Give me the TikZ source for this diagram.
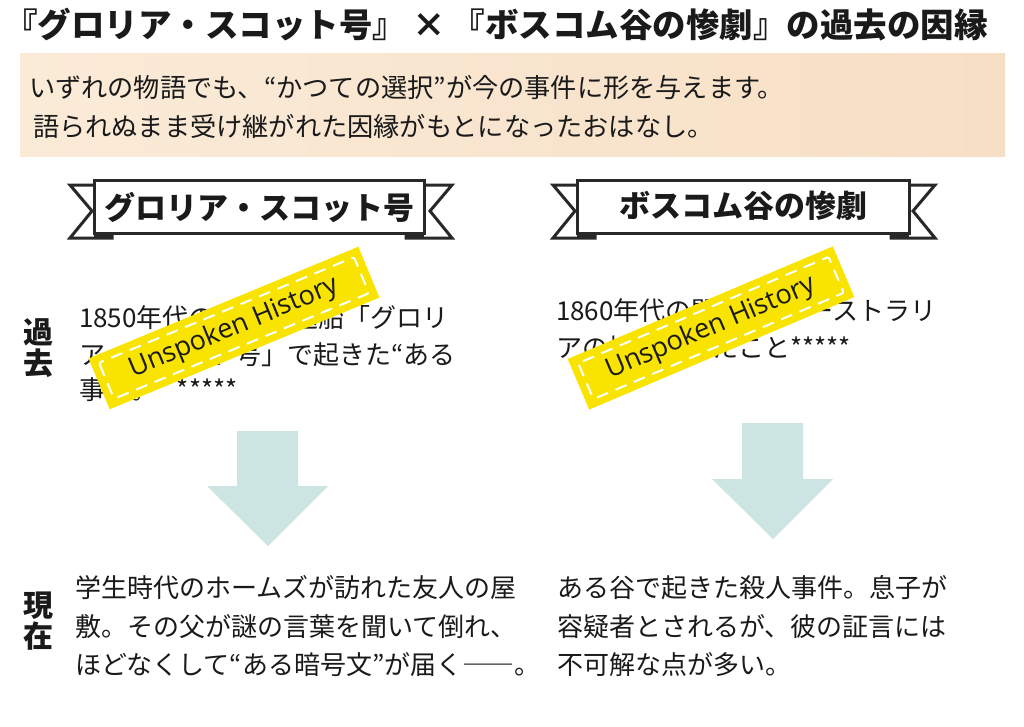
\documentclass[tikz,border=0pt]{standalone}
\usepackage{fontspec}
\newfontfamily\jp{Noto Sans CJK JP}
\newfontfamily\tapefont{Open Sans}
\newcommand\fullw[1]{{\addfontfeature{RawFeature=+fwid}#1}}
\usetikzlibrary{calc}
\definecolor{ink}{RGB}{26,26,26}
\definecolor{bannerline}{RGB}{40,40,40}
\definecolor{tapeyellow}{RGB}{248,228,0}
\definecolor{arrowteal}{RGB}{205,229,226}
\definecolor{boxleft}{RGB}{250,235,216}
\definecolor{boxright}{RGB}{247,223,197}
\tikzset{
  base/.style={inner sep=0pt, outer sep=0pt, text=ink},
  titletext/.style={base, anchor=base, font=\jp\bfseries\fontsize{33.5}{38}\selectfont},
  desctext/.style={base, anchor=base west, font=\jp\fontsize{26.2}{30}\selectfont},
  bannertext/.style={base, anchor=base, font=\jp\bfseries\fontsize{31}{36}\selectfont},
  sidelabel/.style={base, anchor=base, font=\jp\bfseries\fontsize{30}{34}\selectfont},
  bodytext/.style={base, anchor=base west, font=\jp\fontsize{26}{30}\selectfont},
  bannerpart/.style={draw=bannerline, line width=3pt, fill=white, line join=miter},
  foldpart/.style={fill=bannerline},
  tapebody/.style={fill=tapeyellow},
  tapedash/.style={draw=white, line width=2pt, dash pattern=on 12pt off 8pt, rounded corners=2pt},
  tapetext/.style={base, text=ink, transform shape, font=\tapefont\fontsize{27}{30}\selectfont},
  bigarrow/.style={fill=arrowteal},
}
\begin{document}
\begin{tikzpicture}[x=1pt,y=-1pt]
\path[use as bounding box, fill=white] (0,0) rectangle (1024,726);

% title
\node[titletext] (title) at (496,37) {『グロリア・スコット号』\hspace{6pt}×\hspace{6pt}『ボスコム谷の惨劇』の過去の因縁};

% description box
\shade[left color=boxleft, right color=boxright] (20,53) rectangle (1005,156);
\node[desctext] (d1) at (29,97) {いずれの物語でも、“かつての選択”が今の事件に形を与えます。};
\node[desctext] (d2) at (33,136) {語られぬまま受け継がれた因縁がもとになったおはなし。};

% left banner
\draw[bannerpart] (94,185) -- (70,185) -- (92,211) -- (70,238) -- (112,238) -- (112,233);
\draw[bannerpart] (424,185) -- (452,185) -- (430,211) -- (452,238) -- (406,238) -- (406,233);
\fill[foldpart] (94,232) rectangle (112,238);
\fill[foldpart] (406,232) rectangle (424,238);
\draw[bannerpart] (94,180) rectangle (424,233);
\node[bannertext] (b1) at (259,219) {グロリア・スコット号};

% right banner
\draw[bannerpart] (577,185) -- (553,185) -- (575,211) -- (553,238) -- (595,238) -- (595,233);
\draw[bannerpart] (909,185) -- (935,185) -- (913,211) -- (935,238) -- (891,238) -- (891,233);
\fill[foldpart] (577,232) rectangle (595,238);
\fill[foldpart] (891,232) rectangle (909,238);
\draw[bannerpart] (577,180) rectangle (909,233);
\node[bannertext] (b2) at (743,217) {ボスコム谷の惨劇};

% side labels
\node[sidelabel] (ka1) at (38,343) {過};
\node[sidelabel] (ka2) at (38,374) {去};
\node[sidelabel] (ge1) at (38,616) {現};
\node[sidelabel] (ge2) at (38,647) {在};

% past texts
\node[bodytext] (pl1) at (79,327) {1850年代の囚人護送船「グロリ};
\node[bodytext] (pl2) at (79,364) {ア・スコット号」で起きた“ある};
\node[bodytext] (pl3) at (79,399) {事件。\hspace{20pt}*****};
\node[bodytext] (pr1) at (556,320) {1860年代の開拓期\hspace{12pt}オーストラリ};
\node[bodytext] (pr2) at (556,357) {アの地で起きたこと*****};

% tapes
\begin{scope}[shift={(234,328)}, rotate=22.5]
  \fill[tapebody] (-146,-27.5) rectangle (146,27.5);
  \draw[tapedash] (-138,-19.5) rectangle (138,19.5);
  \node[tapetext] (tapeL) at (0,0) {Unspoken History};
\end{scope}
\begin{scope}[shift={(711,328)}, rotate=23]
  \fill[tapebody] (-144,-27.5) rectangle (144,27.5);
  \draw[tapedash] (-136,-19.5) rectangle (136,19.5);
  \node[tapetext] (tapeR) at (0,0) {Unspoken History};
\end{scope}

% arrows
\fill[bigarrow] (237,431) -- (298,431) -- (298,486) -- (328,486) -- (268,546) -- (207,486) -- (237,486) -- cycle;
\fill[bigarrow] (742,423) -- (803,423) -- (803,479) -- (833,479) -- (773,539) -- (712,479) -- (742,479) -- cycle;

% present texts
\node[bodytext] (nl1) at (75,597) {学生時代のホームズが訪れた友人の屋};
\node[bodytext] (nl2) at (75,636) {敷。その父が謎の言葉を聞いて倒れ、};
\node[bodytext] (nl3) at (75,674) {ほどなくして“ある暗号文”が届く\fullw{——}。};
\node[bodytext] (nr1) at (557,597) {ある谷で起きた殺人事件。息子が};
\node[bodytext] (nr2) at (557,636) {容疑者とされるが、彼の証言には};
\node[bodytext] (nr3) at (557,674) {不可解な点が多い。};
\end{tikzpicture}
\end{document}
